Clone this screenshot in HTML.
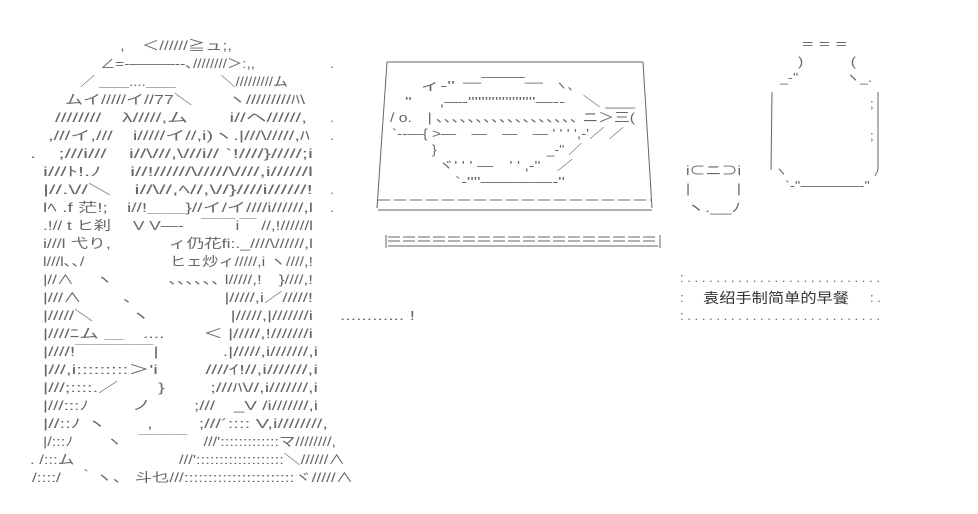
<!DOCTYPE html>
<html><head><meta charset="utf-8"><style>
html,body{margin:0;padding:0;background:#fff;}
svg{display:block}
text{font-family:"Liberation Sans","Noto Sans CJK JP",sans-serif;font-size:13px;fill:#666;}
.c{font-size:14px;fill:#333}
</style></head><body>
<svg width="978" height="514" viewBox="0 0 978 514" xmlns="http://www.w3.org/2000/svg">
<g>
<text x="120" y="50" textLength="112" lengthAdjust="spacingAndGlyphs">,　＜//////≧ュ;,</text>
<text x="100" y="68" textLength="155" lengthAdjust="spacingAndGlyphs">∠=-―――--､////////＞:,,</text>
<text x="330" y="68">.</text>
<text x="80" y="86" textLength="208" lengthAdjust="spacingAndGlyphs">／ ＿＿....＿＿　　　＼/////////ム</text>
<text x="65" y="104" textLength="240" lengthAdjust="spacingAndGlyphs">ムイ/////イ//77＼　　ヽ/////////ﾊ\</text>
<text x="55" y="122" textLength="252" lengthAdjust="spacingAndGlyphs">////////　λ/////,ム　　i//ヘ//////,</text>
<text x="330" y="122">.</text>
<text x="48" y="140" textLength="262" lengthAdjust="spacingAndGlyphs">,///イ,///　i/////イ//,i)ヽ.|///\/////,ﾊ</text>
<text x="330" y="140">.</text>
<text x="30" y="158" textLength="283" lengthAdjust="spacingAndGlyphs">.　;///i///　i//\///,\///i// `!////}/////;i</text>
<text x="43" y="176" textLength="270" lengthAdjust="spacingAndGlyphs">i///ﾄ!.ﾉ　 i//!//////\/////\////,i//////l</text>
<text x="43" y="194" textLength="270" lengthAdjust="spacingAndGlyphs">|//.\//＼　i//\//,ﾍ//,\//}////i//////!</text>
<text x="330" y="194">.</text>
<text x="43" y="212" textLength="270" lengthAdjust="spacingAndGlyphs">lﾍ .f 茫!;　i//!＿＿}//イ/イ////i//////,l</text>
<text x="330" y="212">.</text>
<text x="43" y="230" textLength="270" lengthAdjust="spacingAndGlyphs">.!// t ヒ刹　 V V―-　￣￣i￣ //,!//////l</text>
<text x="43" y="248" textLength="270" lengthAdjust="spacingAndGlyphs">i///l 弋り,　　　 ィ仍花fi:._////\//////,l</text>
<text x="43" y="266" textLength="270" lengthAdjust="spacingAndGlyphs">l///l､､/　　　　　 ヒェ炒ィ/////,i ヽ////,!</text>
<text x="43" y="284" textLength="270" lengthAdjust="spacingAndGlyphs">|//∧　 ヽ　　　 ､､､､､､ l/////,!　}////,!</text>
<text x="43" y="302" textLength="270" lengthAdjust="spacingAndGlyphs">|///∧　　 ､　　　　　|/////,i／/////!</text>
<text x="43" y="320" textLength="270" lengthAdjust="spacingAndGlyphs">|/////＼　　ヽ　　　　 |/////,|///////i</text>
<text x="340" y="320" textLength="75" lengthAdjust="spacingAndGlyphs">............ !</text>
<text x="43" y="338" textLength="270" lengthAdjust="spacingAndGlyphs">|////ﾆム ＿　....　　＜ |/////,!///////i</text>
<text x="43" y="356" textLength="275" lengthAdjust="spacingAndGlyphs">|////!￣￣￣￣|　　　 .|/////,i///////,i</text>
<text x="43" y="374" textLength="275" lengthAdjust="spacingAndGlyphs">|///,i:::::::::＞'i　　 ////ｲ!//,i///////,i</text>
<text x="43" y="392" textLength="275" lengthAdjust="spacingAndGlyphs">|///;::::.／　　}　　 ;///ﾊ\//,i///////,i</text>
<text x="43" y="410" textLength="275" lengthAdjust="spacingAndGlyphs">|///:::ﾉ　　 ノ　　 ;///　_V /i///////,i</text>
<text x="43" y="428" textLength="285" lengthAdjust="spacingAndGlyphs">|//::ﾉ ヽ　　,　　 ;///´:::: V,i////////,</text>
<text x="43" y="446" textLength="293" lengthAdjust="spacingAndGlyphs">|/:::ﾉ　　ヽ　￣￣￣　///':::::::::::::マ////////,</text>
<text x="30" y="464" textLength="315" lengthAdjust="spacingAndGlyphs">. /:::ム　　　　　　 ///':::::::::::::::::::＼//////∧</text>
<text x="32" y="482" textLength="321" lengthAdjust="spacingAndGlyphs">/::::/　｀ヽ、 斗乜///:::::::::::::::::::::::ヾ/////∧</text>
</g>
<g stroke="#666" stroke-width="1" fill="none">
<line x1="387" y1="62" x2="643" y2="62"/>
<line x1="387" y1="62" x2="377" y2="208"/>
<line x1="643" y1="62" x2="652" y2="208"/>
<line x1="378" y1="200" x2="652" y2="200" stroke-dasharray="12,4"/>
<line x1="378" y1="210" x2="652" y2="210"/>
<line x1="386" y1="235" x2="386" y2="248"/>
<line x1="660" y1="235" x2="660" y2="248"/>
<line x1="388" y1="237" x2="658" y2="237" stroke-dasharray="12,3"/>
<line x1="388" y1="241" x2="658" y2="241" stroke-dasharray="12,3"/>
<line x1="388" y1="246" x2="658" y2="246"/>
</g>
<text x="463" y="81" textLength="80" lengthAdjust="spacingAndGlyphs">___――――___</text>
<text x="420" y="90" textLength="35" lengthAdjust="spacingAndGlyphs">ィ‐''</text>
<text x="555" y="90" textLength="25" lengthAdjust="spacingAndGlyphs">ヽ、</text>
<text x="405" y="106" textLength="230" lengthAdjust="spacingAndGlyphs">'' 　 ,―‐''''''''''''''''''''―--　＼ ___</text>
<text x="390" y="122" textLength="245" lengthAdjust="spacingAndGlyphs">/ o.　| ､､､､､､､､､､､､､､､､､､ ニ＞三(</text>
<text x="392" y="138" textLength="232" lengthAdjust="spacingAndGlyphs">`‐-―{ &gt;―　―　―　― ' ' ' ',‐'／ ／</text>
<text x="432" y="154" textLength="150" lengthAdjust="spacingAndGlyphs">}　　　　　　　　_‐'' ／</text>
<text x="438" y="170" textLength="135" lengthAdjust="spacingAndGlyphs">ヾ' ' ' ―　' ' ,‐''　／</text>
<text x="455" y="186" textLength="110" lengthAdjust="spacingAndGlyphs">`‐''''――――‐''</text>
<text x="686" y="175" textLength="55" lengthAdjust="spacingAndGlyphs">i⊂ニ⊃i</text>
<text x="686" y="193" textLength="55" lengthAdjust="spacingAndGlyphs">|　　　|</text>
<text x="686" y="212" textLength="55" lengthAdjust="spacingAndGlyphs">ヽ.__ﾉ</text>
<text x="802" y="48" textLength="45" lengthAdjust="spacingAndGlyphs">= = =</text>
<text x="798" y="66" textLength="58" lengthAdjust="spacingAndGlyphs">)　　　(</text>
<text x="780" y="82" textLength="92" lengthAdjust="spacingAndGlyphs">_‐''　　　 ヽ_.</text>
<g stroke="#666" fill="none"><line x1="772" y1="92" x2="771" y2="170"/><line x1="878" y1="92" x2="878" y2="170"/></g>
<text x="870" y="108">;</text><text x="870" y="140">;</text>
<text x="775" y="176" textLength="105" lengthAdjust="spacingAndGlyphs">ヽ　　　　　　　ﾉ</text>
<text x="785" y="190" textLength="85" lengthAdjust="spacingAndGlyphs">`‐''――――‐''</text>
<text x="680" y="282" textLength="200" lengthAdjust="spacingAndGlyphs">: . . . . . . . . . . . . . . . . . . . . . . . . . . .</text>
<text x="680" y="302">:</text><text x="870" y="302">: .</text>
<text class="c" x="703" y="303" textLength="146" lengthAdjust="spacingAndGlyphs">袁绍手制简单的早餐</text>
<text x="680" y="320" textLength="200" lengthAdjust="spacingAndGlyphs">: . . . . . . . . . . . . . . . . . . . . . . . . . . .</text>
</svg>
</body></html>
